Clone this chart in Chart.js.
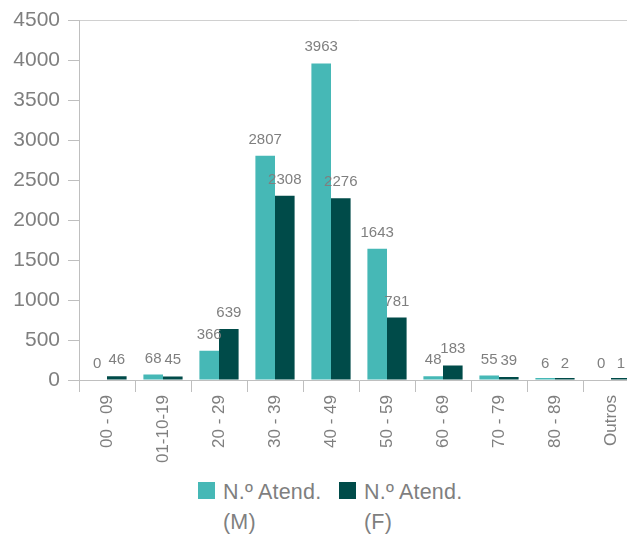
<!DOCTYPE html>
<html>
<head>
<meta charset="utf-8">
<script src="https://cdn.jsdelivr.net/npm/chart.js@4.4.0/dist/chart.umd.min.js"></script>
<style>
  html, body { margin: 0; padding: 0; background: #fff; overflow: hidden; width: 627px; height: 534px; }
  #wrap { position: relative; width: 627px; height: 534px; overflow: hidden; }
  #chart { position: absolute; left: 0; top: 0; }
  .leg { position: absolute; top: 477px; font-family: "Liberation Sans", Arial, sans-serif; font-size: 21.5px; line-height: 30px; color: #7f7f7f; letter-spacing: 0.2px; }
  .leg .box { position: absolute; left: 0; top: 5px; width: 17px; height: 17px; }
  .leg .txt { position: absolute; left: 25px; top: 0; white-space: nowrap; }
</style>
</head>
<body>
<div id="wrap">
  <canvas id="chart" width="640" height="470"></canvas>
  <div class="leg" style="left:198px"><div class="box" id="boxM"></div><div class="txt">N.º Atend.<br>(M)</div></div>
  <div class="leg" style="left:339px"><div class="box" id="boxF"></div><div class="txt">N.º Atend.<br>(F)</div></div>
</div>
<script>
  // Dados
  const categories = ['00 - 09', '01-10-19', '20 - 29', '30 - 39', '40 - 49', '50 - 59', '60 - 69', '70 - 79', '80 - 89', 'Outros'];
  const maleValues = [0, 68, 366, 2807, 3963, 1643, 48, 55, 6, 0];
  const femaleValues = [46, 45, 639, 2308, 2276, 781, 183, 39, 2, 1];
  const seriesNames = ['N.º Atend. (M)', 'N.º Atend. (F)'];
  const seriesColors = ['#46b8b6', '#004b49'];

  document.getElementById('boxM').style.background = seriesColors[0];
  document.getElementById('boxF').style.background = seriesColors[1];

  const textGray = '#7f7f7f';
  const axisGray = '#bfbfbf';
  const fontFamily = '"Liberation Sans", Arial, sans-serif';

  // zero = sem barra (os rótulos vêm das listas originais)
  const noZero = arr => arr.map(v => (v === 0 ? null : v));

  // Rótulos de valores acima das barras
  const valueLabels = {
    id: 'valueLabels',
    afterDatasetsDraw(chart) {
      const ctx = chart.ctx;
      const source = [maleValues, femaleValues];
      const yScale = chart.scales.y;
      ctx.save();
      ctx.font = '15px ' + fontFamily;
      ctx.fillStyle = textGray;
      ctx.textAlign = 'center';
      ctx.textBaseline = 'alphabetic';
      chart.data.datasets.forEach((ds, i) => {
        chart.getDatasetMeta(i).data.forEach((bar, j) => {
          const v = source[i][j];
          ctx.fillText(String(v), bar.x, yScale.getPixelForValue(v) - 12);
        });
      });
      ctx.restore();
    }
  };

  const ctx = document.getElementById('chart').getContext('2d');
  new Chart(ctx, {
    type: 'bar',
    data: {
      labels: categories,
      datasets: [
        { label: seriesNames[0], data: noZero(maleValues), backgroundColor: seriesColors[0], minBarLength: 2 },
        { label: seriesNames[1], data: noZero(femaleValues), backgroundColor: seriesColors[1], minBarLength: 2 }
      ]
    },
    options: {
      responsive: false,
      animation: false,
      devicePixelRatio: 1,
      layout: { padding: { top: 19, right: 1, left: 0, bottom: 0 } },
      datasets: { bar: { categoryPercentage: 0.7, barPercentage: 1 } },
      plugins: { legend: { display: false }, tooltip: { enabled: false } },
      scales: {
        x: {
          border: { color: axisGray, width: 1 },
          grid: { drawOnChartArea: false, tickLength: 12, color: axisGray, offset: true },
          ticks: {
            color: textGray, font: { family: fontFamily, size: 17 },
            minRotation: 90, maxRotation: 90, autoSkip: false, padding: 3
          },
          afterFit(scale) { scale.height = 90; }
        },
        y: {
          min: 0, max: 4500,
          border: { color: axisGray, width: 1 },
          grid: {
            tickLength: 11,
            tickColor: axisGray,
            color: c => (c.tick && c.tick.value === 4500) ? '#d0d0d0' : 'rgba(0,0,0,0)'
          },
          ticks: {
            stepSize: 500, color: textGray, font: { family: fontFamily, size: 21 }, padding: 8,
            callback: v => String(v)
          },
          afterFit(scale) { scale.width = 79; }
        }
      }
    },
    plugins: [valueLabels]
  });
</script>
</body>
</html>
